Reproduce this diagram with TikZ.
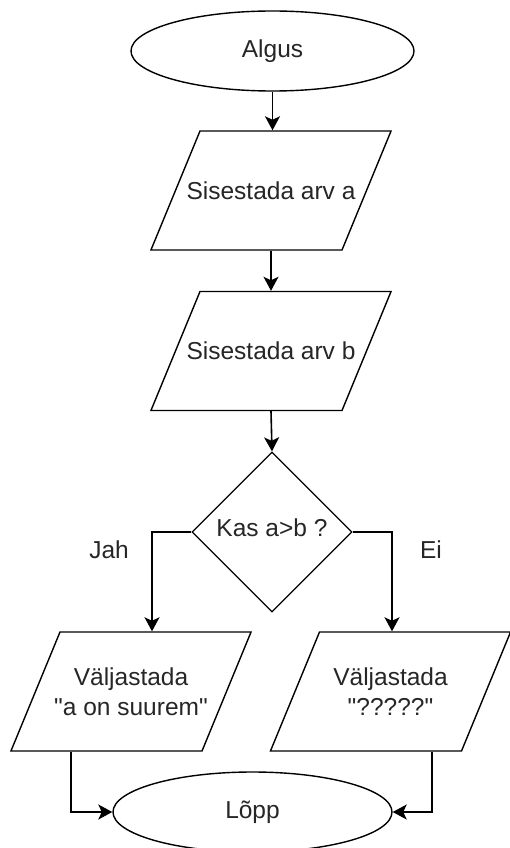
\documentclass[tikz,border=0pt]{standalone}
\usepackage{fontspec}
\setmainfont{Liberation Sans}
\usetikzlibrary{shapes.geometric,arrows.meta,calc}

\tikzset{
  terminal/.style={draw, ellipse, line width=1.4pt, minimum height=80pt, inner sep=0pt},
  inout/.style={draw, trapezium, trapezium left angle=67.6, trapezium right angle=112.4,
    inner xsep=71pt, inner ysep=59.5pt, line width=1.4pt,
    label={[align=center, inner sep=0pt]center:#1}},
  decision/.style={draw, diamond, minimum width=160pt, minimum height=160pt, inner sep=0pt,
    line width=1.3pt},
  arr/.style={line width=1.6pt, -{Stealth[length=14pt,width=15pt,inset=3.5pt]}}
}
\newcommand{\qq}{\textquotedbl}

\begin{document}
\begin{tikzpicture}[x=1pt,y=-1pt,font=\fontsize{24.5}{30}\selectfont,text=black!85]
\useasboundingbox (0,0) rectangle (509,848);
\node[terminal, minimum width=283pt] (algus) at (272.5,51) {Algus};
\node[inout={Sisestada arv a}] (sisa) at (271,190.5) {};
\node[inout={Sisestada arv b}] (sisb) at (271,351) {};
\node[decision] (kas) at (272,532) {};
\node at (272,528) {Kas a>b ?};
\node[inout={Väljastada\\\qq a on suurem\qq}] (jahout) at (131,691.5) {};
\node[inout={Väljastada\\\qq?????\qq}] (eiout) at (390.5,691.5) {};
\node[terminal, minimum width=279pt] (lopp) at (252.5,812) {Lõpp};
\node (jah) at (109,550) {Jah};
\node (ei) at (431,550) {Ei};

\draw[arr] (algus.south) -- (algus.south |- sisa.north);
\draw[arr] (sisa.south) -- (sisb.north);
\draw[arr] (sisb.south) -- (kas.north);
\draw[arr] (kas.west) -| ([xshift=21pt]jahout.north);
\draw[arr] (kas.east) -| ([xshift=1.5pt]eiout.north);
\draw[arr] ([xshift=-60pt]jahout.south) |- (lopp.west);
\draw[arr] ([xshift=41.5pt]eiout.south) |- (lopp.east);
\end{tikzpicture}
\end{document}
